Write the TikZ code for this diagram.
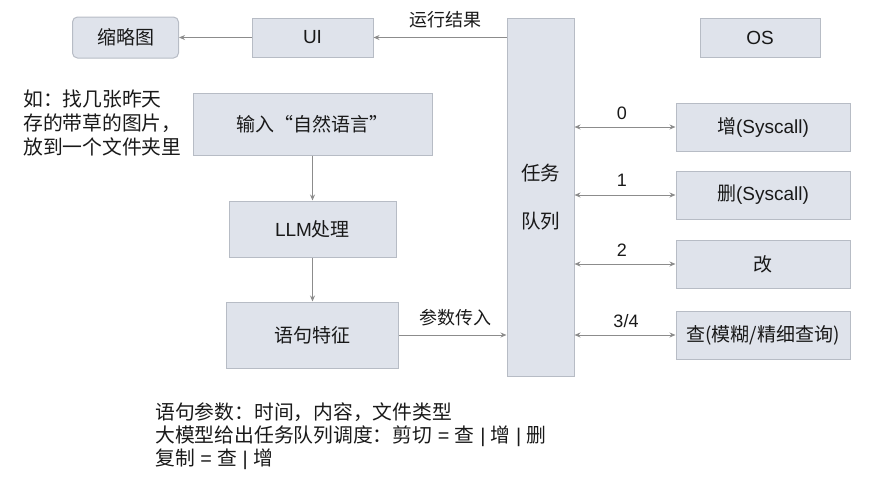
\documentclass[tikz,border=0pt]{standalone}
\usepackage{fontspec}
\setmainfont{Liberation Sans}
\newfontfamily\cjk{Noto Sans CJK SC}
\newcommand{\zh}[1]{{\cjk #1}}
\usetikzlibrary{arrows.meta}
\definecolor{boxfill}{HTML}{DFE3EB}
\definecolor{boxline}{HTML}{B7BCC5}
\definecolor{arrowgray}{HTML}{8C8C8C}
\tikzset{
  box/.style={draw=boxline, fill=boxfill, line width=1pt, inner sep=0pt,
    font=\fontsize{19}{23}\selectfont, text=black!90},
  arr/.style={draw=arrowgray, line width=1pt, -{Stealth[length=6pt,width=5pt]}},
  biarr/.style={draw=arrowgray, line width=1pt,
    {Stealth[length=6pt,width=5pt]}-{Stealth[length=6pt,width=5pt]}},
  lbl/.style={font=\fontsize{18}{22}\selectfont, text=black!90},
  note/.style={font=\fontsize{19.8}{24}\selectfont, align=left, inner sep=0pt, text=black!90}
}
\begin{document}
\begin{tikzpicture}[x=1pt, y=-1pt]
            \useasboundingbox (0, 0) rectangle (879, 488);
            %\draw[lightgray] (0, 0) grid[step=50] (879, 488);

            % top row
            \node[box, rounded corners=5pt, minimum width=106, minimum height=41] (thumb) at (125.5, 37.5) {\zh{缩略图}};
            \node[box, minimum width=121, minimum height=39] (ui) at (312.5, 37.5) {UI};
            \node[box, minimum width=120, minimum height=39] (os) at (760, 37.5) {OS};

            % queue
            \node[box, minimum width=67, minimum height=358, align=center,
                  font=\fontsize{19.5}{48}\selectfont] (queue) at (540.5, 197) {\zh{任务}\\\zh{队列}};

            % left chain
            \node[box, minimum width=239, minimum height=62] (input) at (312.5, 124) {\zh{输入“自然语言”}};
            \node[box, minimum width=167, minimum height=56] (llm) at (312.5, 229) {LLM\zh{处理}};
            \node[box, minimum width=172, minimum height=66] (feat) at (312.5, 335) {\zh{语句特征}};

            % right column
            \node[box, minimum width=174, minimum height=48] (add) at (763, 127) {\zh{增}(Syscall)};
            \node[box, minimum width=174, minimum height=48] (del) at (763, 195) {\zh{删}(Syscall)};
            \node[box, minimum width=174, minimum height=48] (mod) at (763, 264) {\zh{改}};
            \node[box, minimum width=174, minimum height=48] (qry) at (763, 335) {\zh{查(模糊/精细查询)}};

            % connectors
            \draw[arr] (ui) -- (thumb);
            \draw[arr] (queue.west |- ui) -- (ui);
            \draw[arr] (input) -- (llm);
            \draw[arr] (llm) -- (feat);
            \draw[arr] (feat) -- (feat -| queue.west);
            \draw[biarr] (queue.east |- add) -- (add);
            \draw[biarr] (queue.east |- del) -- (del);
            \draw[biarr] (queue.east |- mod) -- (mod);
            \draw[biarr] (queue.east |- qry) -- (qry);

            % labels
            \node[lbl] (runres) at (445, 20) {\zh{运行结果}};
            \node[lbl] (params) at (455, 318) {\zh{参数传入}};
            \node[lbl] (l0) at (622, 113) {0};
            \node[lbl] (l1) at (622, 180) {1};
            \node[lbl] (l2) at (622, 250) {2};
            \node[lbl] (l3) at (626, 321) {3/4};

            % notes
            \node[note, anchor=north west] (example) at (23, 90)
                {\zh{如：找几张昨天}\\\zh{存的带草的图片，}\\\zh{放到一个文件夹里}};
            \node[note, anchor=north west, font=\fontsize{19.8}{23}\selectfont] (summary) at (155, 403)
                {\zh{语句参数：时间，内容，文件类型}\\\zh{大模型给出任务队列调度：剪切} = \zh{查} | \zh{增} | \zh{删}\\\zh{复制} = \zh{查} | \zh{增}};
        \end{tikzpicture}
\end{document}
